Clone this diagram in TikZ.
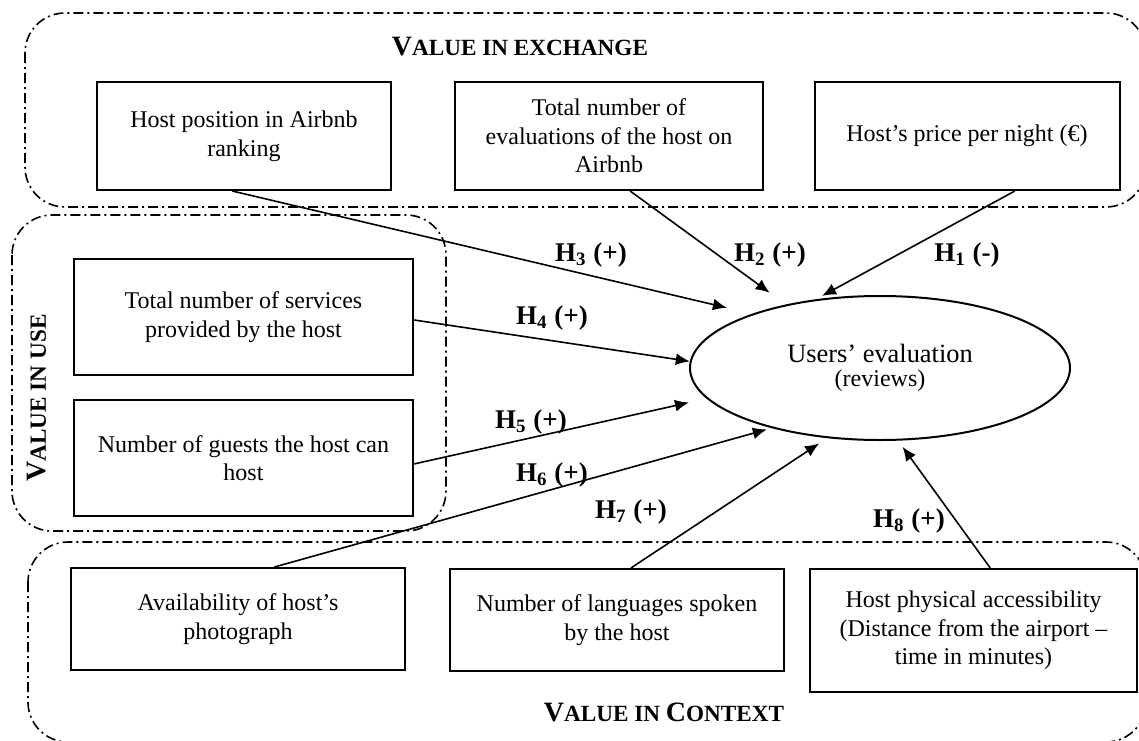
\documentclass[tikz,border=0pt]{standalone}
\usepackage{fontspec}
\setmainfont{Liberation Serif}
\usetikzlibrary{shapes.geometric,arrows.meta}
\newcommand{\capletter}[1]{{\fontsize{14}{16}\selectfont #1}}
\newcommand{\restletters}[1]{{\fontsize{11.6}{14}\selectfont #1}}
\begin{document}
\begin{tikzpicture}[x=0.5pt,y=-0.5pt,
    factor/.style={draw, line width=1pt, align=center, inner sep=0pt,
      font=\fontsize{12}{14.3}\selectfont},
    group/.style={line width=0.8pt, dash pattern=on 5pt off 2pt on 1pt off 2pt,
      rounded corners=20pt},
    hyp/.style={font=\bfseries\fontsize{13.5}{15}\selectfont},
    link/.style={line width=0.8pt, -{Latex[length=7pt,width=6pt]}},
    title/.style={font=\bfseries}]
  \useasboundingbox (0,0) rectangle (1139,740);
  % groups
  \draw[group] (25,13) rectangle (1146,207);
  \draw[group] (12,215) rectangle (446,531);
  \draw[group] (28,542) rectangle (1146,742);
  \node[title] (exch) at (520,47) {\capletter{V}\restletters{ALUE IN EXCHANGE}};
  \node[title, rotate=90] (use) at (37,398) {\capletter{V}\restletters{ALUE IN USE}};
  \node[title] (ctx) at (664,712) {\capletter{V}\restletters{ALUE IN }\capletter{C}\restletters{ONTEXT}};
  % factors
  \node[factor, minimum width=147pt, minimum height=54pt] (rank) at (244,136) {Host position in Airbnb\\ranking};
  \node[factor, minimum width=154pt, minimum height=54pt] (evals) at (609,136) {Total number of\\evaluations of the host on\\Airbnb};
  \node[factor, minimum width=152.5pt, minimum height=54pt] (price) at (967,136) {Host's price per night (€)};
  \node[factor, minimum width=169.5pt, minimum height=58pt] (services) at (243.5,317) {Total number of services\\provided by the host};
  \node[factor, minimum width=169.5pt, minimum height=58pt] (guests) at (243.5,458) {Number of guests the host can\\host};
  \node[factor, minimum width=167pt, minimum height=51pt] (photo) at (238,619) {Availability of host's\\photograph};
  \node[factor, minimum width=167pt, minimum height=51pt] (langs) at (617,620) {Number of languages spoken\\by the host};
  \node[factor, minimum width=163.5pt, minimum height=61.5pt] (access) at (973.5,630.5) {Host physical accessibility\\(Distance from the airport --\\time in minutes)};
  % outcome
  \node[ellipse, draw, line width=1pt, minimum width=190pt, minimum height=72pt, inner sep=0pt,
    align=center] (ue) at (880,368) {{\fontsize{13.2}{15}\selectfont Users' evaluation}\\{\fontsize{12}{14}\selectfont (reviews)}};
  % hypotheses
  \draw[link, shorten >=3.5pt] (price.-49.6) -- (ue.133);
  \draw[link, shorten >=10pt] (evals.-69.7) -- (ue.146.9);
  \draw[link, shorten >=13pt] (rank.-102.5) -- (ue.157.9);
  \draw[link] (services.-1.7) -- (ue.178.2);
  \draw[link, shorten >=9pt] (guests.-2) -- (ue.190.1);
  \draw[link, shorten >=2.5pt] (photo.55.5) -- (ue.209);
  \draw[link, shorten >=4.8pt] (langs.75.7) -- (ue.233.5);
  \draw[link, shorten >=3.8pt] (access.75.9) -- (ue.284.2);
  \node[hyp] (h1) at (967,255) {H\textsubscript{1} (-)};
  \node[hyp] (h2) at (770,255) {H\textsubscript{2} (+)};
  \node[hyp] (h3) at (591,255) {H\textsubscript{3} (+)};
  \node[hyp] (h4) at (552,318) {H\textsubscript{4} (+)};
  \node[hyp] (h5) at (531,422) {H\textsubscript{5} (+)};
  \node[hyp] (h6) at (552,475) {H\textsubscript{6} (+)};
  \node[hyp] (h7) at (631,512) {H\textsubscript{7} (+)};
  \node[hyp] (h8) at (909,521) {H\textsubscript{8} (+)};
\end{tikzpicture}
\end{document}
